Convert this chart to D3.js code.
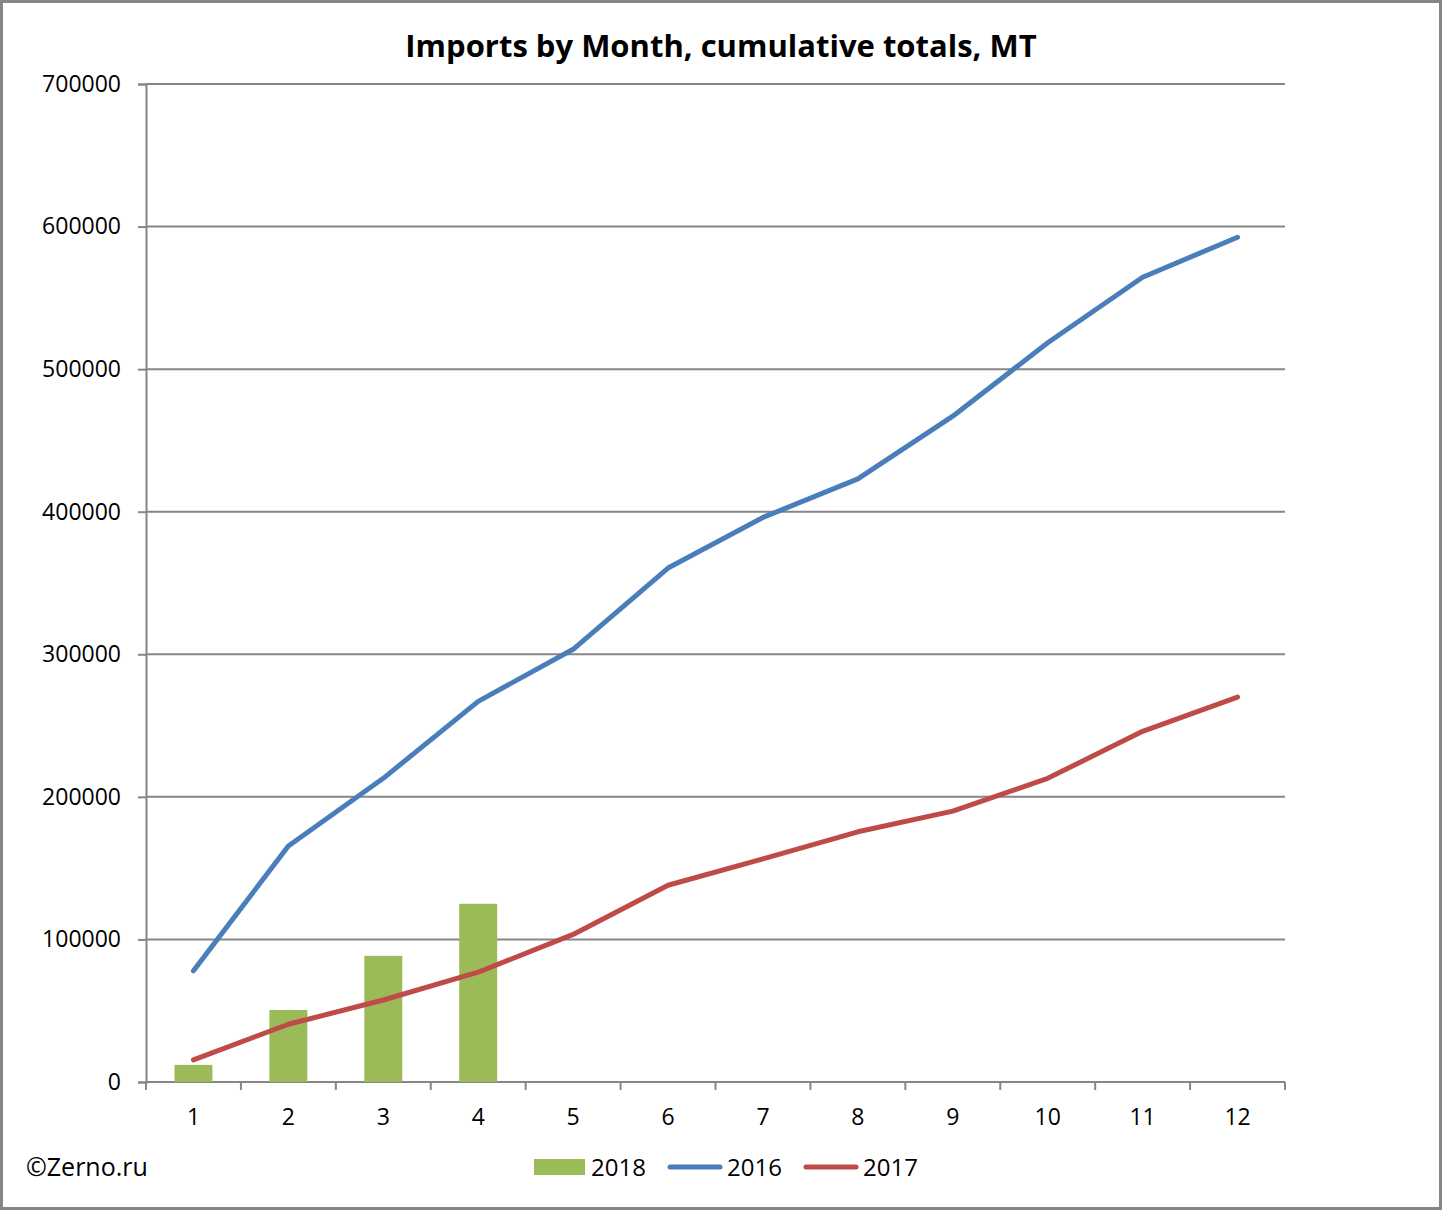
<!DOCTYPE html>
<html>
<head>
<meta charset="utf-8">
<script src="https://cdn.jsdelivr.net/npm/d3@7"></script>
<style>
  body { margin: 0; background: #fff; }
  svg text { font-family: "Open Sans", "Noto Sans", sans-serif; fill: #000; }
</style>
</head>
<body>
<svg id="chart" width="1442" height="1210"></svg>
<script>
// data
const months = [1, 2, 3, 4, 5, 6, 7, 8, 9, 10, 11, 12];
const imports2016 = [78000, 165500, 213000, 267000, 303500, 360500, 396000, 423000, 467000, 518500, 564500, 592500];
const imports2017 = [15500, 40500, 57500, 77000, 103500, 138000, 156500, 175500, 190000, 213000, 246000, 270000];
const imports2018 = [12000, 50500, 88500, 125000];
const yTicks = [0, 100000, 200000, 300000, 400000, 500000, 600000, 700000];

const W = 1442, H = 1210;
const m = { left: 146, right: 157, top: 84, bottom: 128 };
const svg = d3.select("#chart");

// outer frame
svg.append("rect")
  .attr("x", 1.5).attr("y", 1.5)
  .attr("width", W - 3).attr("height", H - 3)
  .attr("fill", "#fff").attr("stroke", "#868686").attr("stroke-width", 3);

const x = d3.scaleBand().domain(months).range([m.left, W - m.right]);
const y = d3.scaleLinear().domain([0, 700000]).range([H - m.bottom, m.top]);

// gridlines
svg.append("g").selectAll("line")
  .data(yTicks.slice(1))
  .enter().append("line")
  .attr("x1", m.left).attr("x2", W - m.right)
  .attr("y1", d => y(d)).attr("y2", d => y(d))
  .attr("stroke", "#868686").attr("stroke-width", 2);

// y axis
const yAxis = d3.axisLeft(y).tickValues(yTicks).tickSize(8).tickPadding(17).tickFormat(d3.format("d"));
svg.append("g")
  .attr("transform", "translate(" + m.left + ",0)")
  .call(yAxis)
  .call(g => g.selectAll("path, line").attr("stroke", "#868686").attr("stroke-width", 2))
  .call(g => g.selectAll("text").style("font-size", "23px"));

// x axis: ticks sit between the categories
const xAxisG = svg.append("g").attr("transform", "translate(0," + y(0) + ")");
xAxisG.append("line")
  .attr("x1", m.left).attr("x2", W - m.right)
  .attr("stroke", "#868686").attr("stroke-width", 2);
xAxisG.selectAll("line.tick")
  .data(months.concat([13]))
  .enter().append("line")
  .attr("class", "tick")
  .attr("x1", d => d === 13 ? W - m.right : x(d)).attr("x2", d => d === 13 ? W - m.right : x(d))
  .attr("y1", 0).attr("y2", 8)
  .attr("stroke", "#868686").attr("stroke-width", 2);
xAxisG.selectAll("text")
  .data(months)
  .enter().append("text")
  .attr("x", d => x(d) + x.bandwidth() / 2)
  .attr("y", 43)
  .attr("text-anchor", "middle")
  .style("font-size", "23px")
  .text(d => d);

// 2018 bars
const barW = x.bandwidth() * 0.4;
svg.append("g").selectAll("rect")
  .data(imports2018)
  .enter().append("rect")
  .attr("x", (d, i) => x(months[i]) + x.bandwidth() / 2 - barW / 2)
  .attr("y", d => y(d))
  .attr("width", barW)
  .attr("height", d => y(0) - y(d))
  .attr("fill", "#9BBB59");

// lines
const line = d3.line()
  .x((d, i) => x(months[i]) + x.bandwidth() / 2)
  .y(d => y(d));

svg.append("path")
  .datum(imports2016)
  .attr("d", line)
  .attr("fill", "none").attr("stroke", "#4A7EBB").attr("stroke-width", 5)
  .attr("stroke-linecap", "round").attr("stroke-linejoin", "round");

svg.append("path")
  .datum(imports2017)
  .attr("d", line)
  .attr("fill", "none").attr("stroke", "#BE4B48").attr("stroke-width", 5)
  .attr("stroke-linecap", "round").attr("stroke-linejoin", "round");

// title
svg.append("text")
  .attr("x", 721).attr("y", 57)
  .attr("text-anchor", "middle")
  .style("font-size", "31px").style("font-weight", "bold")
  .text("Imports by Month, cumulative totals, MT");

// legend
const legend = svg.append("g").attr("transform", "translate(0,1167)");
legend.append("rect").attr("x", 534).attr("y", -8).attr("width", 51).attr("height", 16).attr("fill", "#9BBB59");
legend.append("text").attr("x", 591).attr("y", 9).style("font-size", "24px").text("2018");
legend.append("line").attr("x1", 670).attr("x2", 720).attr("y1", 0).attr("y2", 0)
  .attr("stroke", "#4A7EBB").attr("stroke-width", 5).attr("stroke-linecap", "round");
legend.append("text").attr("x", 727).attr("y", 9).style("font-size", "24px").text("2016");
legend.append("line").attr("x1", 806).attr("x2", 856).attr("y1", 0).attr("y2", 0)
  .attr("stroke", "#BE4B48").attr("stroke-width", 5).attr("stroke-linecap", "round");
legend.append("text").attr("x", 863).attr("y", 9).style("font-size", "24px").text("2017");

// source note
svg.append("text")
  .attr("x", 26).attr("y", 1176)
  .style("font-size", "25px")
  .text("©Zerno.ru");
</script>
</body>
</html>
